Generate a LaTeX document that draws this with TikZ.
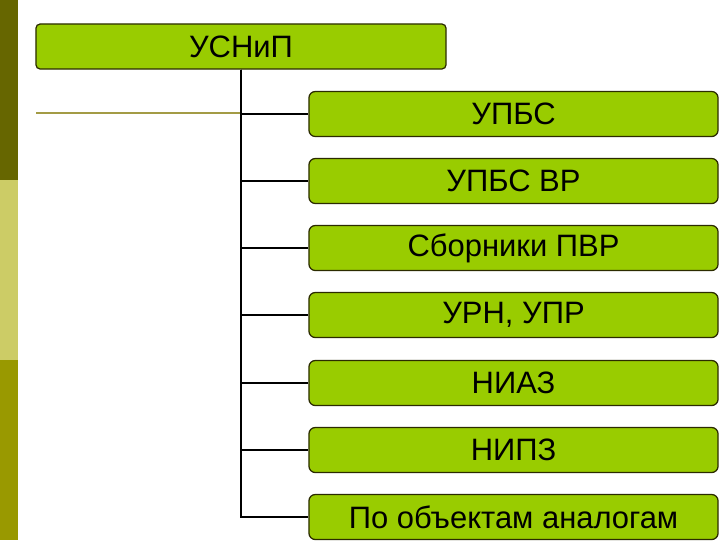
\documentclass[tikz,border=0pt]{standalone}
\usepackage{fontspec}
\setmainfont{Liberation Sans}
\usetikzlibrary{positioning}
\definecolor{leaf}{HTML}{99CC00}
\definecolor{edge}{HTML}{2B2B00}
\definecolor{stripdark}{HTML}{666600}
\definecolor{stripmid}{HTML}{CCCC66}
\definecolor{stripolive}{HTML}{999900}
\definecolor{tanline}{HTML}{A39B45}

\begin{document}
\begin{tikzpicture}[
  x=0.025cm, y=-0.025cm,
  box/.style={draw=edge, line width=.9pt, fill=leaf, align=center,
              font=\fontsize{22pt}{26pt}\selectfont, inner sep=0pt,
              minimum height=1.125cm},
  head/.style={box, rounded corners=3pt, minimum width=10.25cm},
  item/.style={box, rounded corners=4.5pt, minimum width=10.225cm},
  ln/.style={draw=black, line width=1.4pt},
]
\useasboundingbox (0,0) rectangle (720,540);

% side strip
\fill[stripdark]  (0,0)   rectangle (18,180);
\fill[stripmid]   (0,180) rectangle (18,360);
\fill[stripolive] (0,360) rectangle (18,540);

\node[head] (top) at (241,46.5)  {УСНиП};

\node[item] (upbs)  at (513.5,114) {УПБС};
\node[item] (upbsv) at (513.5,181) {УПБС ВР};
\node[item] (sborn) at (513.5,248) {Сборники ПВР};
\node[item] (urn)   at (513.5,315) {УРН, УПР};
\node[item] (niaz)  at (513.5,383) {НИАЗ};
\node[item] (nipz)  at (513.5,450) {НИПЗ};
\node[item] (analog)at (513.5,517) {По объектам аналогам};

\coordinate (tanstart) at (36,113);
\draw[tanline, line width=1.2pt] (tanstart) -- (tanstart -| top.south);

\draw[ln] (top.south) |- (upbs.west);
\draw[ln] (top.south) |- (upbsv.west);
\draw[ln] (top.south) |- (sborn.west);
\draw[ln] (top.south) |- (urn.west);
\draw[ln] (top.south) |- (niaz.west);
\draw[ln] (top.south) |- (nipz.west);
\draw[ln] (top.south) |- (analog.west);
\end{tikzpicture}
\end{document}
